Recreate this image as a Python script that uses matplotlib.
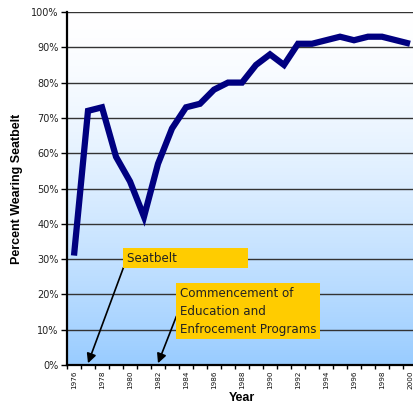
import numpy as np
import matplotlib

matplotlib.use("Agg")
import matplotlib.pyplot as plt

years = list(range(1976, 2001))
pct_wearing = [31, 72, 73, 59, 52, 42, 57, 67, 73, 74, 78, 80, 80, 85, 88,
               85, 91, 91, 92, 93, 92, 93, 93, 92, 91]
tick_labels = [str(y) if (y - 1976) % 2 == 0 else "" for y in years]
y_ticks = list(range(0, 101, 10))

seatbelt_year = 1977
program_year = 1982

W, H = 414, 411
fig = plt.figure(figsize=(W / 100, H / 100), dpi=100)
ax = fig.add_axes([67 / W, (H - 365) / H, 350 / W, 353 / H])

xs = np.arange(len(years))
ax.set_xlim(-0.5, len(years) - 0.5)
ax.set_ylim(0, 100)

# background gradient: white at top, light blue at bottom (eased)
t = np.linspace(0, 1, 256)
w = (1 - t) ** 1.5
blue = np.array([153, 204, 255]) / 255
white = np.ones(3)
grad = (white[None, :] * (1 - w[:, None]) + blue[None, :] * w[:, None])
ax.imshow(grad[:, None, :], aspect="auto", origin="lower",
          extent=[-0.5, len(years) - 0.5, 0, 100], zorder=0)

for v in y_ticks[1:]:
    ax.axhline(v, color="#333333", lw=1.0, zorder=1)

ax.plot(xs, pct_wearing, color="#000080", lw=4.5, solid_joinstyle="miter",
        solid_capstyle="butt", zorder=3)

ax.set_yticks(y_ticks)
ax.set_yticklabels([f"{v}%" for v in y_ticks], fontsize=7,
                   family="DejaVu Sans", color="#222222")
ax.tick_params(axis="y", length=4, width=1, pad=2)

ax.set_xticks(xs)
ax.set_xticklabels(tick_labels, rotation=90, fontsize=5.2, color="#111111")
ax.tick_params(axis="x", length=0, pad=4)
ax.set_xticks(np.arange(-0.5, len(years)), minor=True)
ax.tick_params(axis="x", which="minor", length=3, width=1)

for s in ["top", "right"]:
    ax.spines[s].set_visible(False)
for s in ["left", "bottom"]:
    ax.spines[s].set_linewidth(1.6)
    ax.spines[s].set_zorder(4)

ax.set_xlabel("Year", fontsize=9, fontweight="bold", family="Liberation Sans",
              labelpad=2)
ax.set_ylabel("Percent Wearing Seatbelt", fontsize=9, fontweight="bold",
              family="Liberation Sans", labelpad=6)

box = dict(boxstyle="square,pad=0.3", fc="#ffcc00", ec="none")
ax.annotate("Seatbelt" + " " * 18, xy=(years.index(seatbelt_year), 0.5),
            xytext=(127 / W, (H - 258) / H), textcoords="figure fraction",
            fontsize=8.6, color="#222222", va="center", ha="left", bbox=box,
            arrowprops=dict(arrowstyle="-|>", color="black", lw=1.2,
                            mutation_scale=14, shrinkA=0, shrinkB=0,
                            relpos=(0, 0.5)), zorder=5)
ax.annotate("Commencement of\nEducation and\nEnfrocement Programs",
            xy=(years.index(program_year), 0.5),
            xytext=(180 / W, (H - 311) / H), textcoords="figure fraction",
            fontsize=8.6, color="#222222", va="center", ha="left", bbox=box,
            linespacing=1.5,
            arrowprops=dict(arrowstyle="-|>", color="black", lw=1.2,
                            mutation_scale=14, shrinkA=0, shrinkB=0,
                            relpos=(0, 0.58)), zorder=5)

fig.savefig("out.png", dpi=100)
